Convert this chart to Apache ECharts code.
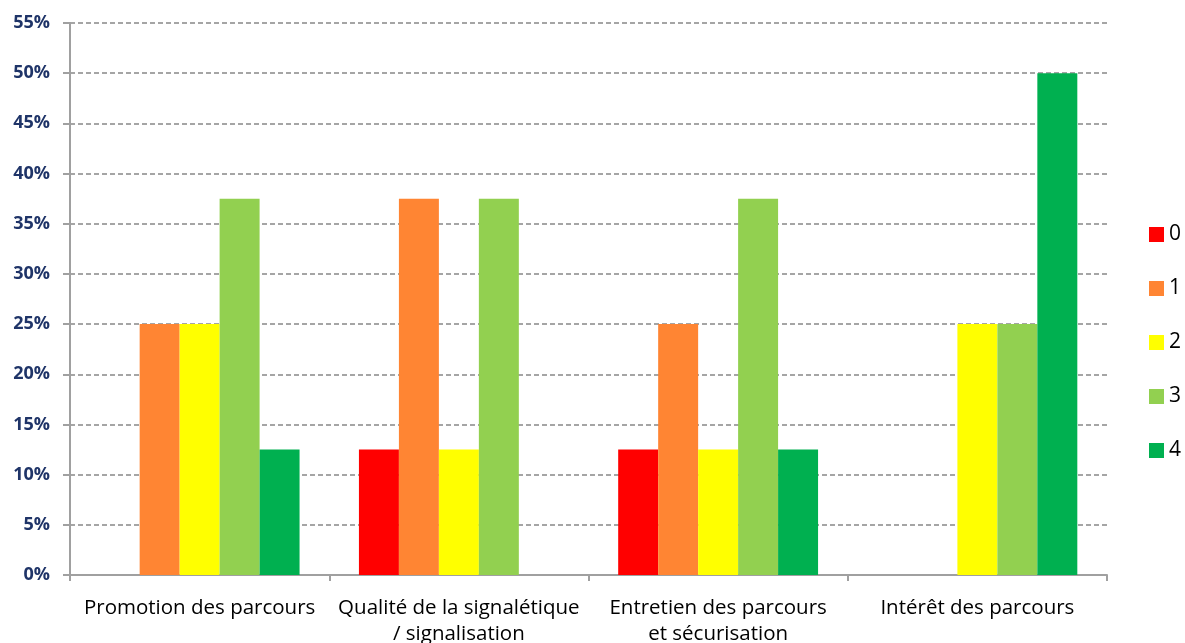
<!DOCTYPE html>
<html><head><meta charset="utf-8">
<script src="https://cdn.jsdelivr.net/npm/echarts@6/dist/echarts.min.js"></script>
<style>html,body{margin:0;padding:0;background:#fff}#c{width:1185px;height:643px}</style>
</head><body><div id="c"></div>
<script>
const categories = ["Promotion des parcours", "Qualité de la signalétique\n/ signalisation", "Entretien des parcours\net sécurisation", "Intérêt des parcours"];
const seriesNames = ["0", "1", "2", "3", "4"];
const s0 = [0, 12.5, 12.5, 0];
const s1 = [25, 37.5, 25, 0];
const s2 = [25, 12.5, 12.5, 25];
const s3 = [37.5, 37.5, 37.5, 25];
const s4 = [12.5, 0, 12.5, 50];
const seriesData = [s0, s1, s2, s3, s4];
const colors = ["#FF0000", "#FF8533", "#FFFF00", "#92D050", "#00B050"];
const yTicks = {min: 0, max: 55, interval: 5};

const chart = echarts.init(document.getElementById('c'), null, {renderer: 'canvas'});
chart.setOption({
  animation: false,
  textStyle: {fontFamily: 'Open Sans'},
  grid: {left: 70, top: 23, width: 1037, height: 552, containLabel: false, outerBoundsMode: 'none'},
  legend: {
    orient: 'vertical', left: 1149, top: 224, padding: 0, itemWidth: 15, itemHeight: 15, itemGap: 33,
    icon: 'rect', data: seriesNames,
    textStyle: {fontFamily: 'Open Sans', fontSize: 21, lineHeight: 15, color: '#000'}
  },
  xAxis: {
    type: 'category', data: categories,
    axisLine: {lineStyle: {color: '#A0A0A0', width: 2}},
    axisTick: {show: true, length: 6, lineStyle: {color: '#A0A0A0', width: 2}},
    axisLabel: {fontFamily: 'Open Sans', fontSize: 20.5, color: '#000', margin: 20, lineHeight: 26, interval: 0}
  },
  yAxis: {
    type: 'value', min: yTicks.min, max: yTicks.max, interval: yTicks.interval,
    axisLine: {show: true, lineStyle: {color: '#A0A0A0', width: 2}},
    axisTick: {show: true, length: 7, lineStyle: {color: '#A0A0A0', width: 2}},
    axisLabel: {formatter: v => v + '%', fontFamily: 'Open Sans', fontWeight: 'bold', fontSize: 18, color: '#1F3468', margin: 20},
    splitLine: {show: true, lineStyle: {color: '#888', type: [5, 3], width: 1.5}}
  },
  series: seriesData.map((d, i) => ({
    name: seriesNames[i], type: 'bar', data: d,
    barGap: '0%', barCategoryGap: '22.9%',
    itemStyle: {color: colors[i]}
  }))
});
</script></body></html>
